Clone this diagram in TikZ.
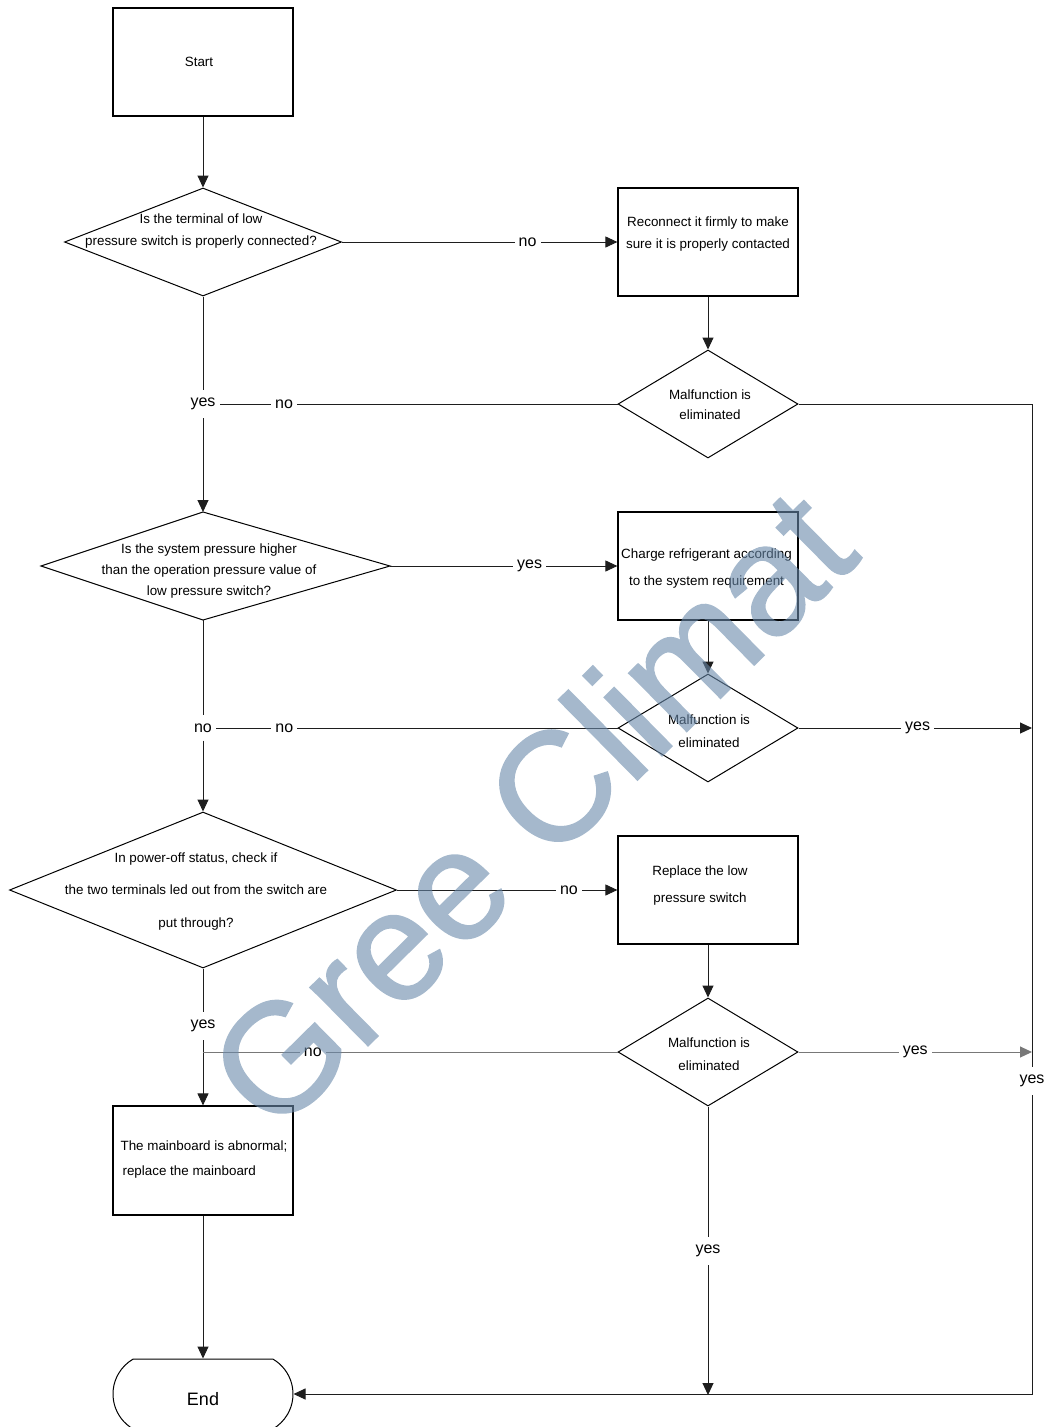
\documentclass[tikz,border=0pt]{standalone}
\usepackage{fontspec}
\setmainfont{Liberation Sans}
\newfontfamily\wmfont{Liberation Sans}[FakeBold=1.2]
\usetikzlibrary{arrows.meta,shapes.geometric,shapes.misc}
\definecolor{lncol}{RGB}{30,30,30}
\definecolor{lngray}{RGB}{120,120,120}
\definecolor{wmcol}{RGB}{105,137,170}
\tikzset{
  conn/.style={draw=lncol, line width=1pt},
  arr/.style={conn, -{Triangle[length=12pt,width=11pt]}},
  boxnode/.style={draw=black, line width=1.2pt, minimum width=180pt, minimum height=108pt, inner sep=0pt},
  dia/.style={draw=black, diamond, line width=1pt, inner sep=0pt},
  txt/.style={inner sep=0pt, align=center, font=\fontsize{13.4}{#1}\selectfont},
  txt/.default=22,
  lbl/.style={fill=white, inner xsep=4pt, inner ysep=8pt, font=\fontsize{16}{19}\selectfont},
  wm/.style={text=wmcol, inner sep=0pt, font=\wmfont\fontsize{155}{157}\selectfont}
}
\begin{document}
\begin{tikzpicture}[x=1pt,y=-1pt]
\useasboundingbox (0,0) rectangle (1046,1427);

% left column
\node[boxnode] (start) at (203,62) {};
\node[txt] (startt) at (199,62) {Start};
\node[dia, minimum width=277pt, minimum height=108pt] (d1) at (203,242) {};
\node[txt=22] (d1t) at (201,231) {Is the terminal of low\\pressure switch is properly connected?};

% D3 kite
\draw[line width=1pt] (41,566) coordinate (d3w) -- (203,512) coordinate (d3n) -- (390,566) coordinate (d3e) -- (203,620) coordinate (d3s) -- cycle;
\node[txt=21] (d3t) at (209,571) {Is the system pressure higher\\than the operation pressure value of\\low pressure switch?};

\node[dia, minimum width=387pt, minimum height=156pt] (d5) at (203,890) {};
\node[txt=32.5] (d5t) at (196,891.5) {In power-off status, check if\\the two terminals led out from the switch are\\put through?};

\node[boxnode, minimum height=109pt] (r4) at (203,1160.5) {};
\node[txt=25, align=left] (r4t) at (204,1159.5) {The mainboard is abnormal;\\\hspace{2pt}replace the mainboard};

\node[draw=black, line width=1pt, rounded rectangle, rounded rectangle arc length=120, minimum width=180pt, minimum height=70pt, inner sep=0pt, text height=23pt, text depth=0pt, font=\fontsize{18}{20}\selectfont] (end) at (203,1394) {End};

% right column
\node[boxnode] (r1) at (708,242) {};
\node[txt=22] (r1t) at (708,234) {Reconnect it firmly to make\\sure it is properly contacted};
\node[dia, minimum width=180pt, minimum height=108pt] (d2) at (708,404) {};
\node[txt=20] (d2t) at (710,404.5) {Malfunction is\\eliminated};

\node[boxnode] (r2) at (708,566) {};
\node[txt=27] (r2t) at (706.5,568.5) {Charge refrigerant according\\to the system requirement};
\node[dia, minimum width=180pt, minimum height=108pt] (d4) at (708,728) {};
\node[txt=23] (d4t) at (709,731) {Malfunction is\\eliminated};

\node[boxnode] (r3) at (708,890) {};
\node[txt=27] (r3t) at (700,885.5) {Replace the low\\pressure switch};
\node[dia, minimum width=180pt, minimum height=108pt] (d6) at (708,1052) {};
\node[txt=23] (d6t) at (709,1054) {Malfunction is\\eliminated};

% junctions and labels on vertical lines
\node[lbl] (ly1) at (203,404) {yes};
\node[lbl] (ln2) at (203,728) {no};
\node[lbl] (ly3) at (203,1026) {yes};
\node[lbl] (lyR) at (1032,1081) {yes};
\node[lbl] (lyB) at (708,1251) {yes};
\coordinate (jR2) at (1032,728);
\coordinate (jR3) at (1032,1052);
\coordinate (jM) at (708,1395);
\coordinate (j6) at (203,1052);

% main vertical
\draw[arr] (start.south) -- (d1.north);
\draw[conn] (d1.south) -- (ly1);
\draw[arr] (ly1) -- (d3n);
\draw[conn] (d3s) -- (ln2);
\draw[arr] (ln2) -- (d5.north);
\draw[conn] (d5.south) -- (ly3);
\draw[arr] (ly3) -- (r4.north);
\draw[arr] (r4.south) -- (end.north);

% horizontal branches
\draw[arr] (d1.east) -- node[lbl, pos=0.674] {no} (r1.west);
\draw[arr] (d3e) -- node[lbl, pos=0.614] {yes} (r2.west);
\draw[arr] (d5.east) -- node[lbl, pos=0.78] {no} (r3.west);

\draw[arr] (r1.south) -- (d2.north);
\draw[arr] (r2.south) -- (d4.north);
\draw[arr] (r3.south) -- (d6.north);

\draw[conn] (d2.west) -- node[lbl, pos=0.838] {no} (ly1);
\draw[conn] (d4.west) -- node[lbl, pos=0.83] {no} (ln2);
\draw[conn, draw=lngray] (d6.west) -- node[lbl, pos=0.735] {no} (j6);

\draw[arr] (d4.east) -- node[lbl, pos=0.51] {yes} (jR2);
\draw[arr, draw=lngray] (d6.east) -- node[lbl, pos=0.5] {yes} (jR3);

\draw[conn] (d2.east) -| (lyR);
\draw[arr] (lyR) |- (end.east);
\draw[conn] (d6.south) -- (lyB);
\draw[arr] (lyB) -- (jM);

% watermark
\begin{scope}[transparency group, opacity=0.6]
\node[wm, rotate=44.6] (wmark) at (530,808) {Gree Climat};
\end{scope}
\end{tikzpicture}
\end{document}
